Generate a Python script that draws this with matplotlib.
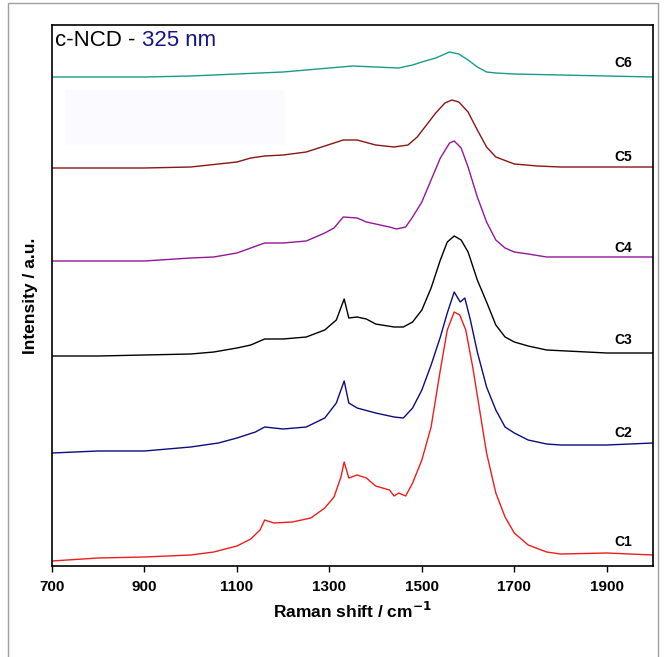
import matplotlib.pyplot as plt
from matplotlib.patches import Rectangle

# --- Data (Raman shift in cm-1, intensity in arbitrary units, offsets included) ---
c1_x = [700, 800, 900, 1000, 1050, 1100, 1130, 1150, 1160, 1180, 1220, 1260, 1290, 1310,
        1325, 1332, 1342, 1360, 1380, 1400, 1430, 1440, 1450, 1465, 1480, 1500, 1520, 1540,
        1555, 1570, 1582, 1595, 1610, 1625, 1640, 1660, 1680, 1700, 1730, 1770, 1800, 1900, 2000]
c1_y = [5, 8, 9, 11, 14, 20, 27, 36, 46, 43, 44, 48, 58, 69,
        89, 104, 88, 91, 88, 80, 76, 70, 73, 70, 83, 106, 139, 196,
        236, 254, 251, 236, 199, 156, 113, 73, 49, 33, 21, 14, 12, 13, 11]

c2_x = [700, 800, 900, 1000, 1060, 1100, 1140, 1160, 1200, 1250, 1290, 1315, 1325, 1332,
        1342, 1360, 1400, 1440, 1460, 1480, 1500, 1520, 1540, 1555, 1570, 1583, 1593, 1605,
        1620, 1640, 1660, 1680, 1700, 1730, 1770, 1800, 1900, 2000]
c2_y = [113, 115, 115, 119, 123, 128, 134, 139, 137, 139, 148, 163, 176, 185,
        163, 158, 153, 149, 148, 158, 176, 201, 229, 253, 274, 264, 268, 246,
        214, 179, 156, 139, 133, 126, 122, 121, 121, 123]

c3_x = [700, 800, 900, 1000, 1050, 1100, 1130, 1160, 1200, 1250, 1290, 1315, 1332, 1342,
        1360, 1380, 1400, 1440, 1460, 1480, 1500, 1520, 1540, 1555, 1570, 1585, 1600, 1620,
        1640, 1660, 1680, 1700, 1730, 1770, 1900, 2000]
c3_y = [210, 210, 211, 212, 214, 218, 221, 227, 227, 229, 236, 246, 267, 248,
        249, 247, 242, 239, 239, 244, 256, 278, 306, 324, 330, 326, 314, 286,
        264, 241, 229, 224, 220, 216, 213, 213]

c4_x = [700, 800, 900, 1000, 1050, 1100, 1130, 1160, 1200, 1250, 1290, 1310, 1330, 1360,
        1380, 1400, 1430, 1445, 1465, 1480, 1500, 1520, 1540, 1560, 1570, 1585, 1600, 1620,
        1640, 1660, 1680, 1700, 1730, 1770, 1900, 2000]
c4_y = [305, 305, 305, 308, 309, 313, 318, 323, 323, 325, 333, 338, 349, 348,
        344, 342, 339, 337, 339, 349, 364, 386, 408, 423, 425, 418, 399, 369,
        344, 326, 318, 314, 312, 309, 309, 309]

c5_x = [700, 800, 900, 1000, 1060, 1100, 1130, 1160, 1200, 1250, 1290, 1330, 1360, 1400,
        1440, 1470, 1490, 1510, 1530, 1550, 1565, 1580, 1600, 1620, 1640, 1660, 1700, 1750,
        1800, 1900, 2000]
c5_y = [398, 398, 398, 399, 402, 404, 408, 410, 411, 414, 420, 426, 426, 421,
        419, 421, 429, 441, 453, 463, 466, 464, 454, 436, 419, 409, 402, 400,
        399, 399, 399]

c6_x = [700, 800, 900, 1000, 1100, 1200, 1300, 1350, 1400, 1450, 1480, 1500, 1530, 1560,
        1580, 1600, 1620, 1640, 1660, 1700, 1800, 2000]
c6_y = [489, 489, 489, 490, 492, 494, 498, 500, 499, 498, 501, 504, 508, 514,
        512, 506, 499, 494, 493, 492, 491, 489]

names = ["C1", "C2", "C3", "C4", "C5", "C6"]
label_y = [24, 133, 226, 318, 409, 503]
xticks = [700, 900, 1100, 1300, 1500, 1700, 1900]

# --- Plot ---
plt.rcParams['font.family'] = ['Liberation Sans', 'DejaVu Sans']
fig = plt.figure(figsize=(6.65, 6.57), dpi=100)
ax = fig.add_axes([52 / 665, 91 / 657, 601 / 665, 541 / 657])

series = [(c1_x, c1_y, "#ee1c1c"), (c2_x, c2_y, "#0c0c80"), (c3_x, c3_y, "#000000"),
          (c4_x, c4_y, "#92179a"), (c5_x, c5_y, "#8b1414"), (c6_x, c6_y, "#1a9a8c")]
for (x, y, col), name, ly in zip(series, names, label_y):
    ax.plot(x, y, color=col, lw=1.0)
    ax.text(1935, ly, name, fontsize=10, fontweight='bold', ha='center', va='center')

# faint leftover box
ax.add_patch(Rectangle((728, 421), 476, 55, facecolor="#fbfafe", edgecolor='none', zorder=0))

ax.set_xlim(700, 2000)
ax.set_ylim(0, 541)
ax.set_yticks([])
ax.set_xticks(xticks)
ax.tick_params(axis='x', direction='out', length=4, width=1, pad=6)
for lbl in ax.get_xticklabels():
    lbl.set_fontweight('bold')
    lbl.set_fontsize(11)
for sp in ax.spines.values():
    sp.set_linewidth(1.2)

ax.set_xlabel("Raman shift / cm$^{\\mathbf{-1}}$", fontsize=12.5, fontweight='bold', labelpad=5)
ax.set_ylabel("Intensity / a.u.", fontsize=12.5, fontweight='bold', labelpad=10)

t1 = ax.text(0.005, 0.99, "c-NCD - ", transform=ax.transAxes, fontsize=16,
             ha='left', va='top', color='black')
fig.canvas.draw()
bb = t1.get_window_extent().transformed(ax.transAxes.inverted())
ax.text(bb.x1, 0.99, "325 nm", transform=ax.transAxes, fontsize=16,
        ha='left', va='top', color='#14148c')

# outer grey frame
fig.patches.append(Rectangle((8 / 665, -0.01), 650 / 665, 1 - 3 / 657 + 0.01,
                             transform=fig.transFigure, fill=False,
                             edgecolor='#a0a0a0', lw=1.0))

fig.savefig("out.png", dpi=100)
plt.close()
